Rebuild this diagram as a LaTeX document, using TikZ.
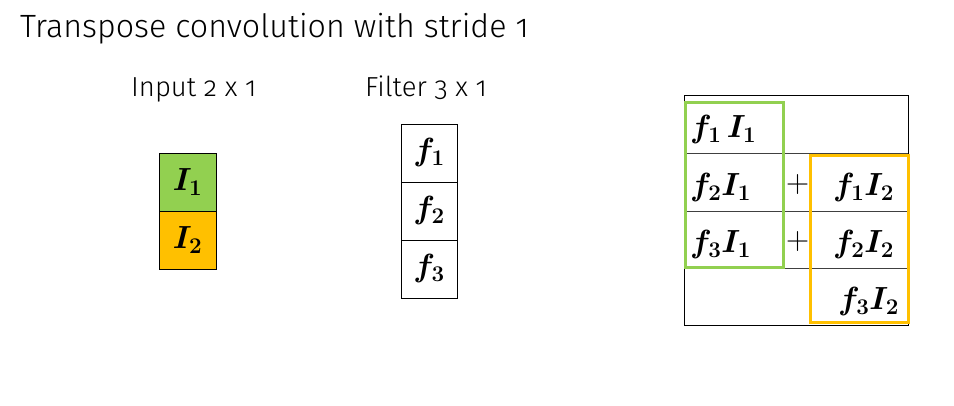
\RequirePackage{fix-cm}
\documentclass[tikz,border=0pt]{standalone}
\usepackage{fontspec}
\setmainfont{Fira Sans}[Numbers=OldStyle, UprightFont=* Light]
\usepackage{bm}
\definecolor{ingreen}{HTML}{92D050}
\definecolor{inorange}{HTML}{FFC000}
\begin{document}
\begin{tikzpicture}[x=1pt, y=-1pt, font=\fontsize{27.5}{30}\selectfont]

        % --- STYLES ---
        \tikzstyle{cell} = [draw=black, thin, minimum width=57, minimum height=58, inner sep=0pt, outer sep=0pt, anchor=north west, font=\fontsize{32}{34}\selectfont]
        \tikzstyle{label_node} = [anchor=base west, inner sep=0pt]
        \tikzstyle{mathtxt} = [inner sep=0pt, anchor=base west, font=\fontsize{32}{34}\selectfont]
        \tikzstyle{gridline} = [draw=black!75, thin]
        \tikzstyle{frame_green} = [draw=ingreen, line width=3pt]
        \tikzstyle{frame_orange} = [draw=inorange, line width=3pt]

        % --- DEFINITIONS ---
        \def\tL{684} % Table left
        \def\tR{908} % Table right

        \useasboundingbox (0,0) rectangle (954,406);

        % --- TITLE ---
        \node[label_node, font=\fontsize{32.2}{34}\selectfont] (title) at (20,38) {Transpose convolution with stride 1};

        % --- INPUT ---
        \node[label_node] (inlabel) at (131,97) {Input 2 x 1};
        \node[cell, fill=ingreen] (in1) at (159,153) {$\bm{I_1}$};
        \node[cell, fill=inorange] (in2) at (in1.south west) {$\bm{I_2}$};

        % --- FILTER ---
        \node[label_node] (filtlabel) at (365,97) {Filter 3 x 1};
        \node[cell, minimum width=56] (f1) at (401,124) {$\bm{f_1}$};
        \node[cell, minimum width=56] (f2) at (f1.south west) {$\bm{f_2}$};
        \node[cell, minimum width=56] (f3) at (f2.south west) {$\bm{f_3}$};

        % --- OUTPUT TABLE ---
        \draw[thin] (\tL,95) rectangle (\tR,325);
        \foreach \y in {153, 211, 268} \draw[gridline] (\tL,\y) -- (\tR,\y);

        % Entries
        \node[mathtxt] (o11) at (690,138) {$\bm{f_1\,I_1}$};
        \node[mathtxt] (o21) at (690,196) {$\bm{f_2 I_1}$};
        \node[mathtxt] (o31) at (690,253) {$\bm{f_3 I_1}$};
        \node[mathtxt] (plus1) at (786,193) {$+$};
        \node[mathtxt] (plus2) at (786,250) {$+$};
        \node[mathtxt] (o12) at (833,196) {$\bm{f_1 I_2}$};
        \node[mathtxt] (o22) at (833,253) {$\bm{f_2 I_2}$};
        \node[mathtxt] (o32) at (838,310) {$\bm{f_3 I_2}$};

        % Groups
        \draw[frame_green] (685,103) rectangle (783,268);
        \draw[frame_orange] (810,156) rectangle (908,323);

    \end{tikzpicture}
\end{document}
